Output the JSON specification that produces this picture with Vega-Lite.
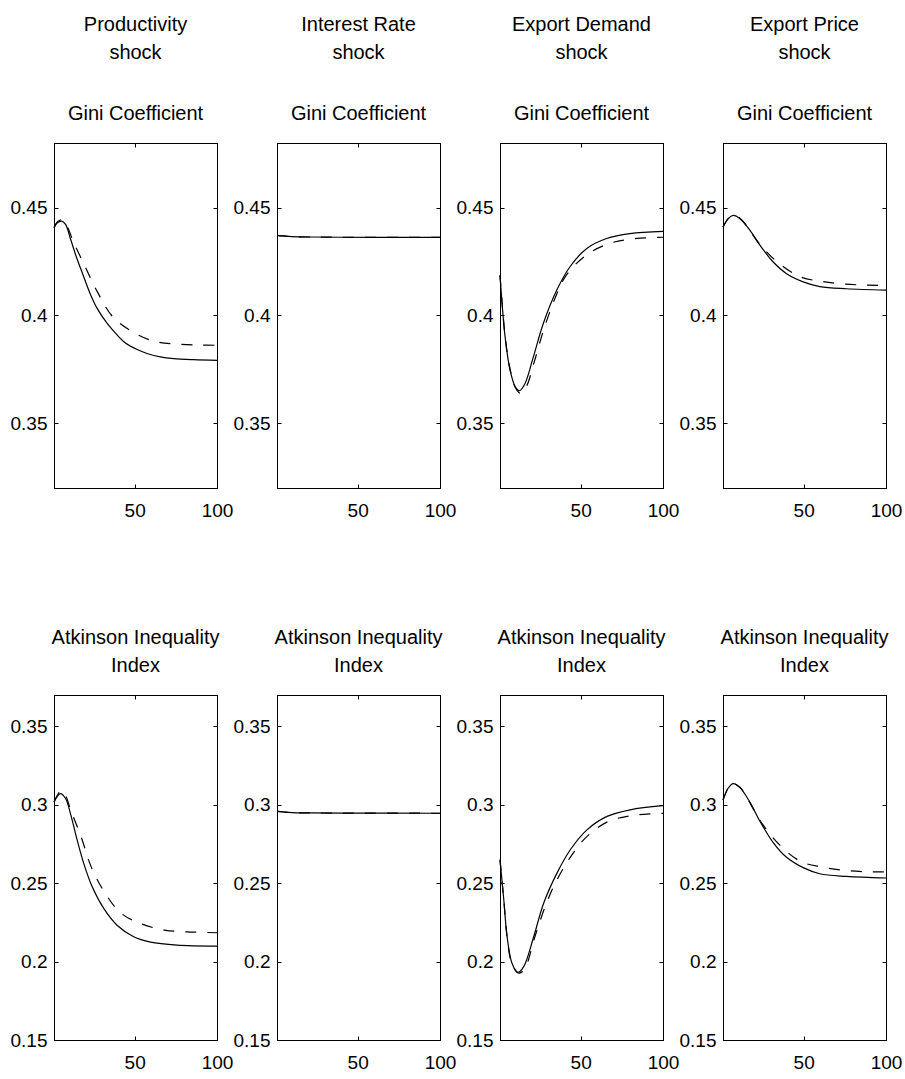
{
  "$schema": "https://vega.github.io/schema/vega-lite/v6.json",
  "padding": {"left": 9, "top": 14, "right": 0, "bottom": 0},
  "background": "white",
  "data": {"values": [
    {"p":"prod","m":"gini","s":"solid","t":1,"v":0.4407},{"p":"prod","m":"gini","s":"solid","t":3,"v":0.4430},{"p":"prod","m":"gini","s":"solid","t":5.5,"v":0.4438},{"p":"prod","m":"gini","s":"solid","t":8,"v":0.4423},{"p":"prod","m":"gini","s":"solid","t":11,"v":0.4356},{"p":"prod","m":"gini","s":"solid","t":14.6,"v":0.4271},{"p":"prod","m":"gini","s":"solid","t":18.7,"v":0.4187},{"p":"prod","m":"gini","s":"solid","t":22.7,"v":0.4106},{"p":"prod","m":"gini","s":"solid","t":27.2,"v":0.4033},{"p":"prod","m":"gini","s":"solid","t":33.3,"v":0.3963},{"p":"prod","m":"gini","s":"solid","t":39.3,"v":0.3910},{"p":"prod","m":"gini","s":"solid","t":44.4,"v":0.3872},{"p":"prod","m":"gini","s":"solid","t":51.5,"v":0.3842},{"p":"prod","m":"gini","s":"solid","t":57.5,"v":0.3824},{"p":"prod","m":"gini","s":"solid","t":65.6,"v":0.3808},{"p":"prod","m":"gini","s":"solid","t":73.7,"v":0.3800},{"p":"prod","m":"gini","s":"solid","t":85.8,"v":0.3795},{"p":"prod","m":"gini","s":"solid","t":100,"v":0.3792},
    {"p":"prod","m":"gini","s":"dashed","t":1,"v":0.4407},{"p":"prod","m":"gini","s":"dashed","t":3,"v":0.4434},{"p":"prod","m":"gini","s":"dashed","t":6,"v":0.4444},{"p":"prod","m":"gini","s":"dashed","t":9,"v":0.4413},{"p":"prod","m":"gini","s":"dashed","t":12.4,"v":0.4349},{"p":"prod","m":"gini","s":"dashed","t":19.5,"v":0.4233},{"p":"prod","m":"gini","s":"dashed","t":27.6,"v":0.4106},{"p":"prod","m":"gini","s":"dashed","t":36.7,"v":0.3994},{"p":"prod","m":"gini","s":"dashed","t":48.8,"v":0.3924},{"p":"prod","m":"gini","s":"dashed","t":62,"v":0.3880},{"p":"prod","m":"gini","s":"dashed","t":76.1,"v":0.3867},{"p":"prod","m":"gini","s":"dashed","t":89.5,"v":0.3863},{"p":"prod","m":"gini","s":"dashed","t":100,"v":0.3862},
    {"p":"rate","m":"gini","s":"solid","t":1,"v":0.4372},{"p":"rate","m":"gini","s":"solid","t":5,"v":0.4369},{"p":"rate","m":"gini","s":"solid","t":10,"v":0.4366},{"p":"rate","m":"gini","s":"solid","t":20,"v":0.4364},{"p":"rate","m":"gini","s":"solid","t":40,"v":0.4363},{"p":"rate","m":"gini","s":"solid","t":70,"v":0.4362},{"p":"rate","m":"gini","s":"solid","t":100,"v":0.4362},
    {"p":"rate","m":"gini","s":"dashed","t":1,"v":0.4372},{"p":"rate","m":"gini","s":"dashed","t":5,"v":0.4369},{"p":"rate","m":"gini","s":"dashed","t":10,"v":0.4366},{"p":"rate","m":"gini","s":"dashed","t":20,"v":0.4364},{"p":"rate","m":"gini","s":"dashed","t":40,"v":0.4363},{"p":"rate","m":"gini","s":"dashed","t":70,"v":0.4362},{"p":"rate","m":"gini","s":"dashed","t":100,"v":0.4362},
    {"p":"demand","m":"gini","s":"solid","t":1,"v":0.4187},{"p":"demand","m":"gini","s":"solid","t":4.1,"v":0.3901},{"p":"demand","m":"gini","s":"solid","t":7.1,"v":0.3747},{"p":"demand","m":"gini","s":"solid","t":10.2,"v":0.3670},{"p":"demand","m":"gini","s":"solid","t":12.8,"v":0.3651},{"p":"demand","m":"gini","s":"solid","t":16.2,"v":0.3685},{"p":"demand","m":"gini","s":"solid","t":21.3,"v":0.3809},{"p":"demand","m":"gini","s":"solid","t":27.3,"v":0.3963},{"p":"demand","m":"gini","s":"solid","t":35.5,"v":0.4118},{"p":"demand","m":"gini","s":"solid","t":43.5,"v":0.4226},{"p":"demand","m":"gini","s":"solid","t":53.7,"v":0.4311},{"p":"demand","m":"gini","s":"solid","t":65.8,"v":0.4357},{"p":"demand","m":"gini","s":"solid","t":79.9,"v":0.4380},{"p":"demand","m":"gini","s":"solid","t":100,"v":0.4390},
    {"p":"demand","m":"gini","s":"dashed","t":1,"v":0.4187},{"p":"demand","m":"gini","s":"dashed","t":4.1,"v":0.3903},{"p":"demand","m":"gini","s":"dashed","t":7.1,"v":0.3752},{"p":"demand","m":"gini","s":"dashed","t":10.2,"v":0.3668},{"p":"demand","m":"gini","s":"dashed","t":13.6,"v":0.3639},{"p":"demand","m":"gini","s":"dashed","t":17,"v":0.3670},{"p":"demand","m":"gini","s":"dashed","t":22,"v":0.3790},{"p":"demand","m":"gini","s":"dashed","t":28,"v":0.3945},{"p":"demand","m":"gini","s":"dashed","t":35.5,"v":0.4100},{"p":"demand","m":"gini","s":"dashed","t":40.9,"v":0.4183},{"p":"demand","m":"gini","s":"dashed","t":52,"v":0.4272},{"p":"demand","m":"gini","s":"dashed","t":65.2,"v":0.4328},{"p":"demand","m":"gini","s":"dashed","t":78.9,"v":0.4353},{"p":"demand","m":"gini","s":"dashed","t":100,"v":0.4363},
    {"p":"price","m":"gini","s":"solid","t":1,"v":0.4410},{"p":"price","m":"gini","s":"solid","t":4.2,"v":0.4449},{"p":"price","m":"gini","s":"solid","t":7.2,"v":0.4464},{"p":"price","m":"gini","s":"solid","t":11.3,"v":0.4449},{"p":"price","m":"gini","s":"solid","t":17.4,"v":0.4395},{"p":"price","m":"gini","s":"solid","t":23.4,"v":0.4326},{"p":"price","m":"gini","s":"solid","t":31.5,"v":0.4248},{"p":"price","m":"gini","s":"solid","t":39.6,"v":0.4194},{"p":"price","m":"gini","s":"solid","t":49.7,"v":0.4156},{"p":"price","m":"gini","s":"solid","t":59.8,"v":0.4134},{"p":"price","m":"gini","s":"solid","t":76,"v":0.4124},{"p":"price","m":"gini","s":"solid","t":100,"v":0.4118},
    {"p":"price","m":"gini","s":"dashed","t":1,"v":0.4410},{"p":"price","m":"gini","s":"dashed","t":4.2,"v":0.4449},{"p":"price","m":"gini","s":"dashed","t":7.2,"v":0.4464},{"p":"price","m":"gini","s":"dashed","t":11.3,"v":0.4451},{"p":"price","m":"gini","s":"dashed","t":14.3,"v":0.4426},{"p":"price","m":"gini","s":"dashed","t":23.8,"v":0.4326},{"p":"price","m":"gini","s":"dashed","t":35.1,"v":0.4241},{"p":"price","m":"gini","s":"dashed","t":48.1,"v":0.4179},{"p":"price","m":"gini","s":"dashed","t":61.2,"v":0.4158},{"p":"price","m":"gini","s":"dashed","t":74.4,"v":0.4146},{"p":"price","m":"gini","s":"dashed","t":88.1,"v":0.4141},{"p":"price","m":"gini","s":"dashed","t":100,"v":0.4140},
    {"p":"prod","m":"atk","s":"solid","t":1,"v":0.3018},{"p":"prod","m":"atk","s":"solid","t":4.9,"v":0.3071},{"p":"prod","m":"atk","s":"solid","t":8,"v":0.3040},{"p":"prod","m":"atk","s":"solid","t":11,"v":0.2944},{"p":"prod","m":"atk","s":"solid","t":15.1,"v":0.2774},{"p":"prod","m":"atk","s":"solid","t":19.1,"v":0.2625},{"p":"prod","m":"atk","s":"solid","t":24.2,"v":0.2477},{"p":"prod","m":"atk","s":"solid","t":31.2,"v":0.2339},{"p":"prod","m":"atk","s":"solid","t":39.3,"v":0.2232},{"p":"prod","m":"atk","s":"solid","t":49.4,"v":0.2158},{"p":"prod","m":"atk","s":"solid","t":59.6,"v":0.2124},{"p":"prod","m":"atk","s":"solid","t":75.7,"v":0.2105},{"p":"prod","m":"atk","s":"solid","t":100,"v":0.2099},
    {"p":"prod","m":"atk","s":"dashed","t":1,"v":0.3018},{"p":"prod","m":"atk","s":"dashed","t":5.35,"v":0.3092},{"p":"prod","m":"atk","s":"dashed","t":8,"v":0.3060},{"p":"prod","m":"atk","s":"dashed","t":11,"v":0.2971},{"p":"prod","m":"atk","s":"dashed","t":17.5,"v":0.2795},{"p":"prod","m":"atk","s":"dashed","t":23.6,"v":0.2604},{"p":"prod","m":"atk","s":"dashed","t":31.2,"v":0.2451},{"p":"prod","m":"atk","s":"dashed","t":41.4,"v":0.2311},{"p":"prod","m":"atk","s":"dashed","t":54.5,"v":0.2239},{"p":"prod","m":"atk","s":"dashed","t":68.1,"v":0.2201},{"p":"prod","m":"atk","s":"dashed","t":81.2,"v":0.2190},{"p":"prod","m":"atk","s":"dashed","t":100,"v":0.2184},
    {"p":"rate","m":"atk","s":"solid","t":1,"v":0.2958},{"p":"rate","m":"atk","s":"solid","t":5,"v":0.2954},{"p":"rate","m":"atk","s":"solid","t":10,"v":0.2950},{"p":"rate","m":"atk","s":"solid","t":20,"v":0.2948},{"p":"rate","m":"atk","s":"solid","t":40,"v":0.2947},{"p":"rate","m":"atk","s":"solid","t":100,"v":0.2946},
    {"p":"rate","m":"atk","s":"dashed","t":1,"v":0.2958},{"p":"rate","m":"atk","s":"dashed","t":5,"v":0.2954},{"p":"rate","m":"atk","s":"dashed","t":10,"v":0.2950},{"p":"rate","m":"atk","s":"dashed","t":20,"v":0.2948},{"p":"rate","m":"atk","s":"dashed","t":40,"v":0.2947},{"p":"rate","m":"atk","s":"dashed","t":100,"v":0.2946},
    {"p":"demand","m":"atk","s":"solid","t":1,"v":0.2649},{"p":"demand","m":"atk","s":"solid","t":3.3,"v":0.2394},{"p":"demand","m":"atk","s":"solid","t":5.3,"v":0.2160},{"p":"demand","m":"atk","s":"solid","t":8.3,"v":0.1989},{"p":"demand","m":"atk","s":"solid","t":11.7,"v":0.1930},{"p":"demand","m":"atk","s":"solid","t":15.4,"v":0.1968},{"p":"demand","m":"atk","s":"solid","t":21.5,"v":0.2160},{"p":"demand","m":"atk","s":"solid","t":27.5,"v":0.2372},{"p":"demand","m":"atk","s":"solid","t":35.6,"v":0.2564},{"p":"demand","m":"atk","s":"solid","t":43.7,"v":0.2713},{"p":"demand","m":"atk","s":"solid","t":53.8,"v":0.2840},{"p":"demand","m":"atk","s":"solid","t":66,"v":0.2926},{"p":"demand","m":"atk","s":"solid","t":80.1,"v":0.2968},{"p":"demand","m":"atk","s":"solid","t":100,"v":0.2994},
    {"p":"demand","m":"atk","s":"dashed","t":1,"v":0.2649},{"p":"demand","m":"atk","s":"dashed","t":3.3,"v":0.2394},{"p":"demand","m":"atk","s":"dashed","t":5.3,"v":0.2160},{"p":"demand","m":"atk","s":"dashed","t":8.3,"v":0.1985},{"p":"demand","m":"atk","s":"dashed","t":12.8,"v":0.1926},{"p":"demand","m":"atk","s":"dashed","t":16.5,"v":0.1965},{"p":"demand","m":"atk","s":"dashed","t":21.9,"v":0.2149},{"p":"demand","m":"atk","s":"dashed","t":29.2,"v":0.2372},{"p":"demand","m":"atk","s":"dashed","t":35.6,"v":0.2521},{"p":"demand","m":"atk","s":"dashed","t":44.7,"v":0.2681},{"p":"demand","m":"atk","s":"dashed","t":54.2,"v":0.2802},{"p":"demand","m":"atk","s":"dashed","t":66.9,"v":0.2894},{"p":"demand","m":"atk","s":"dashed","t":80.1,"v":0.2930},{"p":"demand","m":"atk","s":"dashed","t":92.7,"v":0.2943},{"p":"demand","m":"atk","s":"dashed","t":100,"v":0.2945},
    {"p":"price","m":"atk","s":"solid","t":1,"v":0.3030},{"p":"price","m":"atk","s":"solid","t":4.2,"v":0.3107},{"p":"price","m":"atk","s":"solid","t":7.2,"v":0.3135},{"p":"price","m":"atk","s":"solid","t":11.3,"v":0.3109},{"p":"price","m":"atk","s":"solid","t":17.4,"v":0.3015},{"p":"price","m":"atk","s":"solid","t":23.4,"v":0.2895},{"p":"price","m":"atk","s":"solid","t":31.5,"v":0.2759},{"p":"price","m":"atk","s":"solid","t":39.6,"v":0.2665},{"p":"price","m":"atk","s":"solid","t":49.7,"v":0.2599},{"p":"price","m":"atk","s":"solid","t":59.8,"v":0.2560},{"p":"price","m":"atk","s":"solid","t":76,"v":0.2543},{"p":"price","m":"atk","s":"solid","t":100,"v":0.2533},
    {"p":"price","m":"atk","s":"dashed","t":1,"v":0.3030},{"p":"price","m":"atk","s":"dashed","t":4.2,"v":0.3107},{"p":"price","m":"atk","s":"dashed","t":7.2,"v":0.3135},{"p":"price","m":"atk","s":"dashed","t":11.3,"v":0.3112},{"p":"price","m":"atk","s":"dashed","t":14.3,"v":0.3069},{"p":"price","m":"atk","s":"dashed","t":23.8,"v":0.2895},{"p":"price","m":"atk","s":"dashed","t":35.1,"v":0.2747},{"p":"price","m":"atk","s":"dashed","t":48.1,"v":0.2639},{"p":"price","m":"atk","s":"dashed","t":61.2,"v":0.2603},{"p":"price","m":"atk","s":"dashed","t":74.4,"v":0.2582},{"p":"price","m":"atk","s":"dashed","t":88.1,"v":0.2573},{"p":"price","m":"atk","s":"dashed","t":100,"v":0.2572}
  ]},
  "columns": 4,
  "spacing": {"row": 207, "column": 60},
  "bounds": "flush",
  "concat": [
    {"width":163,"height":345,"title":{"text":["Productivity","shock"],"subtitle":"Gini Coefficient"},
     "transform":[{"filter":"datum.p==='prod' && datum.m==='gini'"}],
     "layer":[
      {"transform":[{"filter":"datum.s==='solid'"}],"mark":{"type":"line","interpolate":"catmull-rom","color":"black","strokeWidth":1.2},
       "encoding":{"x":{"field":"t","type":"quantitative","scale":{"domain":[1,100],"nice":false,"zero":false},"axis":{"orient":"bottom","values":[50,100],"title":null}},
                   "y":{"field":"v","type":"quantitative","scale":{"domain":[0.32,0.48],"nice":false,"zero":false},"axis":{"orient":"left","values":[0.35,0.4,0.45],"format":".2~f","title":null}}}},
      {"transform":[{"filter":"datum.s==='dashed'"}],"mark":{"type":"line","interpolate":"catmull-rom","color":"black","strokeWidth":1.2,"strokeDash":[11,11]},
       "encoding":{"x":{"field":"t","type":"quantitative","axis":{"orient":"top","values":[50,100],"labels":false,"title":null}},
                   "y":{"field":"v","type":"quantitative","axis":{"orient":"right","values":[0.35,0.4,0.45],"labels":false,"title":null}}}}
     ],
     "resolve":{"axis":{"x":"independent","y":"independent"}}},
    {"width":163,"height":345,"title":{"text":["Interest Rate","shock"],"subtitle":"Gini Coefficient"},
     "transform":[{"filter":"datum.p==='rate' && datum.m==='gini'"}],
     "layer":[
      {"transform":[{"filter":"datum.s==='solid'"}],"mark":{"type":"line","interpolate":"catmull-rom","color":"black","strokeWidth":1.2},
       "encoding":{"x":{"field":"t","type":"quantitative","scale":{"domain":[1,100],"nice":false,"zero":false},"axis":{"orient":"bottom","values":[50,100],"title":null}},
                   "y":{"field":"v","type":"quantitative","scale":{"domain":[0.32,0.48],"nice":false,"zero":false},"axis":{"orient":"left","values":[0.35,0.4,0.45],"format":".2~f","title":null}}}},
      {"transform":[{"filter":"datum.s==='dashed'"}],"mark":{"type":"line","interpolate":"catmull-rom","color":"black","strokeWidth":1.2,"strokeDash":[11,11]},
       "encoding":{"x":{"field":"t","type":"quantitative","axis":{"orient":"top","values":[50,100],"labels":false,"title":null}},
                   "y":{"field":"v","type":"quantitative","axis":{"orient":"right","values":[0.35,0.4,0.45],"labels":false,"title":null}}}}
     ],
     "resolve":{"axis":{"x":"independent","y":"independent"}}},
    {"width":163,"height":345,"title":{"text":["Export Demand","shock"],"subtitle":"Gini Coefficient"},
     "transform":[{"filter":"datum.p==='demand' && datum.m==='gini'"}],
     "layer":[
      {"transform":[{"filter":"datum.s==='solid'"}],"mark":{"type":"line","interpolate":"catmull-rom","color":"black","strokeWidth":1.2},
       "encoding":{"x":{"field":"t","type":"quantitative","scale":{"domain":[1,100],"nice":false,"zero":false},"axis":{"orient":"bottom","values":[50,100],"title":null}},
                   "y":{"field":"v","type":"quantitative","scale":{"domain":[0.32,0.48],"nice":false,"zero":false},"axis":{"orient":"left","values":[0.35,0.4,0.45],"format":".2~f","title":null}}}},
      {"transform":[{"filter":"datum.s==='dashed'"}],"mark":{"type":"line","interpolate":"catmull-rom","color":"black","strokeWidth":1.2,"strokeDash":[11,11]},
       "encoding":{"x":{"field":"t","type":"quantitative","axis":{"orient":"top","values":[50,100],"labels":false,"title":null}},
                   "y":{"field":"v","type":"quantitative","axis":{"orient":"right","values":[0.35,0.4,0.45],"labels":false,"title":null}}}}
     ],
     "resolve":{"axis":{"x":"independent","y":"independent"}}},
    {"width":163,"height":345,"title":{"text":["Export Price","shock"],"subtitle":"Gini Coefficient"},
     "transform":[{"filter":"datum.p==='price' && datum.m==='gini'"}],
     "layer":[
      {"transform":[{"filter":"datum.s==='solid'"}],"mark":{"type":"line","interpolate":"catmull-rom","color":"black","strokeWidth":1.2},
       "encoding":{"x":{"field":"t","type":"quantitative","scale":{"domain":[1,100],"nice":false,"zero":false},"axis":{"orient":"bottom","values":[50,100],"title":null}},
                   "y":{"field":"v","type":"quantitative","scale":{"domain":[0.32,0.48],"nice":false,"zero":false},"axis":{"orient":"left","values":[0.35,0.4,0.45],"format":".2~f","title":null}}}},
      {"transform":[{"filter":"datum.s==='dashed'"}],"mark":{"type":"line","interpolate":"catmull-rom","color":"black","strokeWidth":1.2,"strokeDash":[11,11]},
       "encoding":{"x":{"field":"t","type":"quantitative","axis":{"orient":"top","values":[50,100],"labels":false,"title":null}},
                   "y":{"field":"v","type":"quantitative","axis":{"orient":"right","values":[0.35,0.4,0.45],"labels":false,"title":null}}}}
     ],
     "resolve":{"axis":{"x":"independent","y":"independent"}}},
    {"width":163,"height":345,"title":{"text":["Atkinson Inequality","Index"]},
     "transform":[{"filter":"datum.p==='prod' && datum.m==='atk'"}],
     "layer":[
      {"transform":[{"filter":"datum.s==='solid'"}],"mark":{"type":"line","interpolate":"catmull-rom","color":"black","strokeWidth":1.2},
       "encoding":{"x":{"field":"t","type":"quantitative","scale":{"domain":[1,100],"nice":false,"zero":false},"axis":{"orient":"bottom","values":[50,100],"title":null}},
                   "y":{"field":"v","type":"quantitative","scale":{"domain":[0.15,0.37],"nice":false,"zero":false},"axis":{"orient":"left","values":[0.15,0.2,0.25,0.3,0.35],"format":".2~f","title":null}}}},
      {"transform":[{"filter":"datum.s==='dashed'"}],"mark":{"type":"line","interpolate":"catmull-rom","color":"black","strokeWidth":1.2,"strokeDash":[11,11]},
       "encoding":{"x":{"field":"t","type":"quantitative","axis":{"orient":"top","values":[50,100],"labels":false,"title":null}},
                   "y":{"field":"v","type":"quantitative","axis":{"orient":"right","values":[0.15,0.2,0.25,0.3,0.35],"labels":false,"title":null}}}}
     ],
     "resolve":{"axis":{"x":"independent","y":"independent"}}},
    {"width":163,"height":345,"title":{"text":["Atkinson Inequality","Index"]},
     "transform":[{"filter":"datum.p==='rate' && datum.m==='atk'"}],
     "layer":[
      {"transform":[{"filter":"datum.s==='solid'"}],"mark":{"type":"line","interpolate":"catmull-rom","color":"black","strokeWidth":1.2},
       "encoding":{"x":{"field":"t","type":"quantitative","scale":{"domain":[1,100],"nice":false,"zero":false},"axis":{"orient":"bottom","values":[50,100],"title":null}},
                   "y":{"field":"v","type":"quantitative","scale":{"domain":[0.15,0.37],"nice":false,"zero":false},"axis":{"orient":"left","values":[0.15,0.2,0.25,0.3,0.35],"format":".2~f","title":null}}}},
      {"transform":[{"filter":"datum.s==='dashed'"}],"mark":{"type":"line","interpolate":"catmull-rom","color":"black","strokeWidth":1.2,"strokeDash":[11,11]},
       "encoding":{"x":{"field":"t","type":"quantitative","axis":{"orient":"top","values":[50,100],"labels":false,"title":null}},
                   "y":{"field":"v","type":"quantitative","axis":{"orient":"right","values":[0.15,0.2,0.25,0.3,0.35],"labels":false,"title":null}}}}
     ],
     "resolve":{"axis":{"x":"independent","y":"independent"}}},
    {"width":163,"height":345,"title":{"text":["Atkinson Inequality","Index"]},
     "transform":[{"filter":"datum.p==='demand' && datum.m==='atk'"}],
     "layer":[
      {"transform":[{"filter":"datum.s==='solid'"}],"mark":{"type":"line","interpolate":"catmull-rom","color":"black","strokeWidth":1.2},
       "encoding":{"x":{"field":"t","type":"quantitative","scale":{"domain":[1,100],"nice":false,"zero":false},"axis":{"orient":"bottom","values":[50,100],"title":null}},
                   "y":{"field":"v","type":"quantitative","scale":{"domain":[0.15,0.37],"nice":false,"zero":false},"axis":{"orient":"left","values":[0.15,0.2,0.25,0.3,0.35],"format":".2~f","title":null}}}},
      {"transform":[{"filter":"datum.s==='dashed'"}],"mark":{"type":"line","interpolate":"catmull-rom","color":"black","strokeWidth":1.2,"strokeDash":[11,11]},
       "encoding":{"x":{"field":"t","type":"quantitative","axis":{"orient":"top","values":[50,100],"labels":false,"title":null}},
                   "y":{"field":"v","type":"quantitative","axis":{"orient":"right","values":[0.15,0.2,0.25,0.3,0.35],"labels":false,"title":null}}}}
     ],
     "resolve":{"axis":{"x":"independent","y":"independent"}}},
    {"width":163,"height":345,"title":{"text":["Atkinson Inequality","Index"]},
     "transform":[{"filter":"datum.p==='price' && datum.m==='atk'"}],
     "layer":[
      {"transform":[{"filter":"datum.s==='solid'"}],"mark":{"type":"line","interpolate":"catmull-rom","color":"black","strokeWidth":1.2},
       "encoding":{"x":{"field":"t","type":"quantitative","scale":{"domain":[1,100],"nice":false,"zero":false},"axis":{"orient":"bottom","values":[50,100],"title":null}},
                   "y":{"field":"v","type":"quantitative","scale":{"domain":[0.15,0.37],"nice":false,"zero":false},"axis":{"orient":"left","values":[0.15,0.2,0.25,0.3,0.35],"format":".2~f","title":null}}}},
      {"transform":[{"filter":"datum.s==='dashed'"}],"mark":{"type":"line","interpolate":"catmull-rom","color":"black","strokeWidth":1.2,"strokeDash":[11,11]},
       "encoding":{"x":{"field":"t","type":"quantitative","axis":{"orient":"top","values":[50,100],"labels":false,"title":null}},
                   "y":{"field":"v","type":"quantitative","axis":{"orient":"right","values":[0.15,0.2,0.25,0.3,0.35],"labels":false,"title":null}}}}
     ],
     "resolve":{"axis":{"x":"independent","y":"independent"}}}
  ],
  "config": {
    "font": "Liberation Sans",
    "view": {"stroke": "black", "strokeWidth": 1},
    "axis": {"grid": false, "domain": true, "domainColor": "black", "domainWidth": 1, "ticks": true, "tickColor": "black", "tickSize": -4, "labelColor": "black", "labelFont": "Liberation Sans", "labelFontSize": 19, "labelFlush": false, "labelOverlap": false, "labelBound": false},
    "axisX": {"labelPadding": 17},
    "axisY": {"labelPadding": 11},
    "title": {"font": "Liberation Sans", "fontSize": 20, "fontWeight": "normal", "color": "black", "lineHeight": 28, "subtitleFont": "Liberation Sans", "subtitleFontSize": 20, "subtitleColor": "black", "subtitlePadding": 41, "offset": 19, "anchor": "middle"}
  }
}
